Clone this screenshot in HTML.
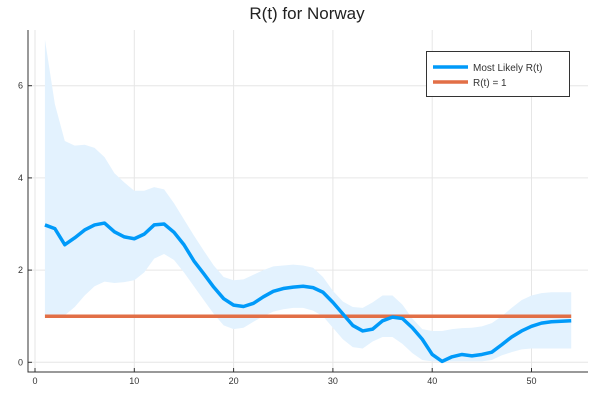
<!DOCTYPE html>
<html><head><meta charset="utf-8"><style>
body{margin:0;background:#fff}
svg{display:block;font-family:"Liberation Sans",sans-serif}
</style></head><body>
<svg id="chart" width="600" height="400">
<text x="307" y="19" text-anchor="middle" font-size="17" fill="#222">R(t) for Norway</text>
<g id="grid"></g>
<g id="band"></g>
<g id="lines"></g>
<g id="axes"></g>
<g>
<rect x="426.5" y="51.5" width="143" height="45" fill="#fff" stroke="#333" stroke-width="1"/>
<line x1="433" y1="67" x2="468" y2="67" stroke="#009af9" stroke-width="3.5"/>
<text x="473" y="71" font-size="10" fill="#333">Most Likely R(t)</text>
<line x1="433" y1="82" x2="468" y2="82" stroke="#e26f46" stroke-width="3.5"/>
<text x="473" y="86" font-size="10" fill="#333">R(t) = 1</text>
</g>
</svg>
<script>
const rValues=[2.98,2.9,2.55,2.7,2.87,2.98,3.02,2.83,2.72,2.68,2.78,2.98,3.0,2.82,2.55,2.2,1.92,1.63,1.38,1.24,1.21,1.28,1.42,1.54,1.6,1.63,1.65,1.62,1.52,1.3,1.05,0.8,0.68,0.72,0.9,0.98,0.95,0.75,0.5,0.17,0.02,0.12,0.17,0.14,0.17,0.22,0.38,0.55,0.68,0.78,0.85,0.88,0.89,0.9];
const upperValues=[7.0,5.6,4.8,4.7,4.72,4.65,4.45,4.1,3.9,3.72,3.72,3.8,3.75,3.45,3.1,2.75,2.42,2.1,1.85,1.78,1.8,1.9,2.0,2.08,2.1,2.12,2.1,2.05,1.85,1.55,1.32,1.2,1.18,1.3,1.45,1.45,1.25,0.95,0.72,0.68,0.68,0.72,0.74,0.75,0.78,0.85,1.0,1.18,1.35,1.45,1.5,1.52,1.52,1.52];
const lowerValues=[1.02,1.0,1.02,1.2,1.45,1.65,1.75,1.72,1.74,1.78,1.95,2.25,2.35,2.22,1.95,1.65,1.35,1.05,0.8,0.72,0.75,0.88,1.0,1.1,1.15,1.18,1.18,1.12,1.0,0.75,0.5,0.33,0.3,0.45,0.55,0.55,0.4,0.2,0.05,0.02,0.02,0.02,0.02,0.02,0.02,0.05,0.15,0.22,0.28,0.3,0.3,0.3,0.3,0.3];
const xTicks=[0,10,20,30,40,50];
const yTicks=[0,2,4,6];
const threshold=1;
const NS="http://www.w3.org/2000/svg";
const X=v=>35+v*9.93, Y=v=>362.3-v*46.1;
const L=28,R=588,T=30,B=372;
function mk(t,a,p){const e=document.createElementNS(NS,t);for(const k in a)e.setAttribute(k,a[k]);p.appendChild(e);return e;}
const grid=document.getElementById('grid'),axes=document.getElementById('axes'),band=document.getElementById('band'),lines=document.getElementById('lines');
xTicks.forEach(t=>{
 const g=mk('line',{x1:X(t),x2:X(t),y1:T,y2:B,stroke:'#e6e6e6','stroke-width':1},grid);
 
 
 mk('line',{x1:X(t),x2:X(t),y1:B,y2:B-4,stroke:'#333'},axes);
 const tx=mk('text',{x:X(t),y:B+12,'text-anchor':'middle','font-size':9,fill:'#333'},axes);
 tx.textContent=t;
 
 
});
yTicks.forEach(t=>{
 const g=mk('line',{x1:L,x2:R,y1:Y(t),y2:Y(t),stroke:'#e6e6e6','stroke-width':1},grid);
 
 
 mk('line',{x1:L,x2:L+4,y1:Y(t),y2:Y(t),stroke:'#333'},axes);
 const tx=mk('text',{x:L-5,y:Y(t)+3,'text-anchor':'end','font-size':9,fill:'#333'},axes);
 tx.textContent=t;
 
 
});
const ax=mk('path',{d:`M${L},${T}V${B}H${R}`,fill:'none',stroke:'#333','stroke-width':1},axes);


let d='';
upperValues.forEach((v,i)=>{d+=(i?'L':'M')+X(i+1)+','+Y(v);});
for(let i=lowerValues.length-1;i>=0;i--)d+='L'+X(i+1)+','+Y(lowerValues[i]);
const bp=mk('path',{d:d+'Z',fill:'#e3f2fe'},band);


const th=mk('line',{x1:X(1),x2:X(rValues.length),y1:Y(threshold),y2:Y(threshold),stroke:'#e26f46','stroke-width':3.5},lines);


const rl=mk('polyline',{points:rValues.map((v,i)=>X(i+1)+','+Y(v)).join(' '),fill:'none',stroke:'#009af9','stroke-width':3.5,'stroke-linejoin':'round'},lines);


</script>
</body></html>
